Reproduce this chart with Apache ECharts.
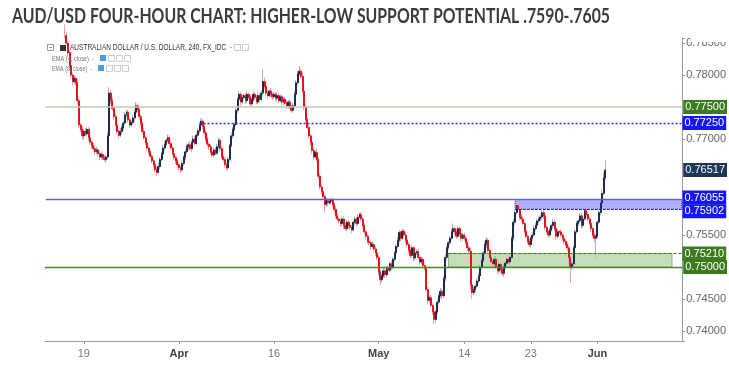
<!DOCTYPE html>
<html><head><meta charset="utf-8">
<script src="https://cdn.jsdelivr.net/npm/echarts@6/dist/echarts.min.js"></script>
<style>html,body{margin:0;padding:0;background:#fff}#c{width:729px;height:368px}</style>
</head><body><div id="c"></div>
<script>
// ---- DATA (AUD/USD 4h, prices in pips x 1e-4) ----
const firstOpen = 7890;
// closes, one row per trading day (6 four-hour bars), starting Tue 13 Mar 2018
const closes = [
7895,7905,7900,7890,7885,7892, // Mar13
7900,7910,7898,7885,7880,7875, // Mar14
7862,7850,7835,7815,7800,7790, // Mar15
7795,7788,7760,7722,7715,7705, // Mar16
7712,7708,7715,7702,7695,7690, // Mar19
7685,7680,7683,7677,7672,7676, // Mar20
7671,7668,7672,7705,7772,7760, // Mar21
7748,7735,7722,7712,7706,7712, // Mar22
7718,7725,7738,7742,7730,7722, // Mar23
7726,7733,7742,7752,7746,7735, // Mar26
7724,7712,7702,7694,7686,7680, // Mar27
7673,7666,7660,7652,7648,7657, // Mar28
7668,7677,7686,7692,7698,7702, // Mar29
7693,7686,7677,7671,7666,7660, // Mar30
7655,7652,7662,7672,7680,7688, // Apr2
7691,7685,7695,7700,7693,7706, // Apr3
7713,7722,7728,7720,7710,7700, // Apr4
7692,7688,7680,7675,7683,7678, // Apr5
7688,7698,7685,7672,7668,7660, // Apr6
7655,7668,7690,7705,7715,7723, // Apr9
7745,7762,7770,7758,7765,7768, // Apr10
7760,7770,7765,7755,7762,7770, // Apr11
7765,7758,7768,7762,7772,7790, // Apr12
7782,7772,7768,7775,7770,7766, // Apr13
7770,7764,7768,7760,7766,7758, // Apr16
7762,7756,7752,7758,7750,7745, // Apr17
7752,7770,7788,7802,7806,7798, // Apr18
7775,7750,7730,7718,7705,7695, // Apr19
7682,7672,7679,7668,7642,7625, // Apr20
7618,7610,7598,7604,7600,7603, // Apr23
7605,7598,7590,7580,7575,7572, // Apr24
7568,7575,7565,7560,7570,7565, // Apr25
7562,7558,7570,7575,7568,7578, // Apr26
7582,7575,7565,7555,7548,7540, // Apr27
7538,7532,7535,7528,7522,7515, // Apr30
7492,7480,7486,7494,7488,7498, // May1
7495,7505,7500,7512,7522,7532, // May2
7542,7554,7545,7556,7550,7542, // May3
7535,7526,7518,7530,7514,7522, // May4
7524,7515,7508,7512,7502,7498, // May7
7465,7448,7452,7440,7430,7418, // May8
7430,7445,7455,7462,7455,7482, // May9
7515,7530,7538,7545,7555,7560, // May10
7555,7548,7560,7552,7545,7550, // May11
7545,7538,7530,7525,7472,7460, // May14
7465,7470,7478,7486,7500,7510, // May15
7522,7535,7542,7526,7515,7508, // May16
7505,7512,7500,7494,7504,7496, // May17
7490,7500,7506,7512,7508,7515, // May18
7545,7570,7585,7596,7590,7578, // May21
7575,7568,7556,7548,7540,7535, // May22
7545,7550,7560,7565,7572,7575, // May23
7578,7585,7580,7562,7555,7550, // May24
7558,7565,7570,7560,7548,7555, // May25
7555,7550,7545,7540,7535,7530, // May28
7515,7500,7505,7530,7555,7568, // May29
7572,7580,7565,7575,7588,7582, // May30
7575,7568,7560,7550,7545,7548, // May31
7570,7585,7600,7615,7640,7651.7 // Jun1
];
// upper wick above max(open,close), pips
const upperWick = [
4,6,3,5,3,4, 6,8,5,4,5,3, 4,5,3,4,3,4, 5,3,6,4,3,5, 4,5,3,4,5,3,
3,4,5,3,4,3, 3,4,3,6,9,5, 6,4,5,3,4,5, 4,3,5,4,3,4, 3,5,4,6,4,3,
4,3,5,3,4,3, 3,4,3,5,4,5, 4,3,5,4,3,5, 5,4,3,4,3,4, 3,4,5,3,4,5,
4,5,3,5,4,3, 3,4,5,4,3,4, 4,3,4,5,3,4, 5,4,3,4,3,4, 3,4,3,5,4,3,
5,4,5,3,4,3, 4,5,3,4,3,5, 3,4,5,3,4,20, 6,4,5,3,4,3, 4,3,5,4,3,4,
3,4,5,3,4,3, 4,5,4,5,8,4, 6,5,4,3,4,3, 4,5,3,6,3,4, 4,3,5,4,3,4,
3,4,3,5,4,3, 4,3,4,5,3,4, 5,4,3,4,3,5, 3,4,3,4,3,4, 4,3,5,3,4,3,
3,4,3,5,4,3, 4,3,5,4,3,4, 5,4,3,4,3,4, 3,4,5,4,3,4, 4,5,3,4,3,4,
5,4,3,4,3,4, 3,4,3,5,4,4, 5,4,3,4,5,8, 4,5,4,3,4,3, 3,4,3,4,5,4,
4,3,4,5,3,4, 3,5,4,3,4,3, 4,3,5,4,3,4, 3,4,3,4,5,3, 4,5,4,8,5,4,
5,4,3,4,3,4, 3,4,5,4,3,4, 4,6,5,3,4,3, 4,3,5,4,3,4, 3,4,3,4,3,4,
4,3,5,4,3,4, 3,4,5,4,5,4, 4,3,4,3,4,3, 3,4,5,6,8,15
];
// lower wick below min(open,close), pips
const lowerWick = [
5,4,3,5,4,3, 4,5,6,5,4,5, 5,4,6,5,4,6, 4,5,6,5,4,6, 5,4,3,5,4,6,
4,5,3,4,5,4, 4,3,5,4,3,5, 4,5,3,4,5,3, 5,4,3,4,5,4, 3,4,5,3,4,5,
4,5,3,4,5,4, 3,4,5,4,6,3, 4,3,5,4,3,4, 5,4,3,4,5,4, 4,5,3,4,5,3,
5,4,6,3,4,3, 3,4,3,5,4,5, 4,5,4,3,4,3, 3,4,5,3,4,5, 4,3,4,3,4,3,
3,4,5,6,4,3, 5,4,3,4,3,4, 4,3,4,5,3,4, 4,5,6,3,4,5, 3,4,5,4,3,5,
4,3,5,4,3,4, 3,4,3,4,3,4, 4,5,4,3,4,5, 5,4,3,4,5,4, 4,5,13,4,5,3,
3,4,5,4,3,4, 5,4,6,3,4,5, 4,5,3,4,5,3, 3,4,5,4,5,4, 4,5,3,4,5,4,
5,8,4,3,5,4, 4,3,5,4,3,4, 3,4,5,3,4,5, 4,5,4,3,5,4, 3,4,5,4,3,4,
4,5,4,3,5,7, 5,4,3,4,5,3, 4,5,3,4,3,4, 5,4,3,4,5,4, 4,3,5,4,8,10,
4,5,3,4,3,4, 3,4,5,4,3,4, 5,4,3,6,4,5, 4,5,3,4,3,4, 3,4,5,3,4,5,
4,3,5,4,5,4, 5,4,3,4,3,4, 3,4,5,4,3,4, 4,3,5,4,6,4, 3,4,5,4,3,5,
5,25,4,3,4,3, 4,3,5,4,3,4, 3,4,5,4,6,30, 4,3,4,5,3,4
];
const futureBars = 48;
// x tick labels keyed by bar index
const tickLabels = {24:'19', 84:'Apr', 144:'16', 210:'May', 264:'14', 306:'23', 348:'Jun'};
const monthLabels = ['Apr','May','Jun'];
// drawn levels
const levelValues = [0.775, 0.7725, 0.76517, 0.76055, 0.75902, 0.7521, 0.75];
const levelTexts = ['0.77500','0.77250','0.76517','0.76055','0.75902','0.75210','0.75000'];
const boxBlue = [0.75902, 0.76055];
const boxGreen = [0.75, 0.7521];
const yMin = 0.73843, yMax = 0.7858;

// ---- build ----
const nBars = closes.length;
const total = nBars + futureBars;
const categories = [];
const dt = new Date(Date.UTC(2018, 2, 13));
while (categories.length < total) {
  const wd = dt.getUTCDay();
  if (wd !== 0 && wd !== 6) {
    for (let h = 0; h < 24; h += 4) {
      categories.push(dt.toISOString().slice(0,10) + ' ' + String(h).padStart(2,'0') + ':00');
    }
  }
  dt.setUTCDate(dt.getUTCDate() + 1);
}
categories.length = total;

const full = [], bodies = [];
for (let i = 0; i < nBars; i++) {
  const o = (i === 0 ? firstOpen : closes[i-1]);
  const c = closes[i];
  const hi = Math.max(o, c) + upperWick[i];
  const lo = Math.min(o, c) - lowerWick[i];
  full.push([o/1e4, c/1e4, lo/1e4, hi/1e4]);
  bodies.push([o/1e4, c/1e4, Math.min(o,c)/1e4, Math.max(o,c)/1e4]);
}
const last = total - 1;

const green = '#3d7b1f', blue = '#1414ff', navy = '#1d3657';
function tag(text, bg, dy) {
  return {show:true, position:'end', distance:1, formatter:text, color:'#fff', offset:[0, dy || 0],
    backgroundColor:bg, fontSize:11, fontFamily:'Arial', padding:[2,2,1,2]};
}

const chart = echarts.init(document.getElementById('c'), null, {renderer:'canvas'});

// horizontal scale factors to reproduce the condensed fonts
const cv = document.createElement('canvas').getContext('2d');
function fitScale(text, font, target) { cv.font = font; return target / cv.measureText(text).width; }
const titleText = 'AUD/USD FOUR-HOUR CHART: HIGHER-LOW SUPPORT POTENTIAL .7590-.7605';
const titleFont = 'bold 21px Lato';
const legendText = 'AUSTRALIAN DOLLAR / U.S. DOLLAR, 240, FX_IDC  -';
const legendFont = '9px Arial';
const ema1 = 'EMA (4, close)  -', ema2 = 'EMA (8, close)  -';
const emaFont = '8px Arial';

const hidden = [0.775, 0.765, 0.76, 0.75];
const option = {
  animation: false,
  grid: {left: 45, right: 39, top: 38, bottom: 27},
  xAxis: {
    type: 'category', data: categories, boundaryGap: true,
    axisLine: {show: true, lineStyle: {color: '#9a9a9a'}},
    axisTick: {show: true, length: 3, alignWithLabel: true, interval: (i) => tickLabels[i] !== undefined, lineStyle: {color: '#9a9a9a'}},
    axisLabel: {
      interval: (i) => tickLabels[i] !== undefined, margin: 7,
      formatter: (v, i) => { const t = tickLabels[i] || ''; return monthLabels.includes(t) ? '{m|' + t + '}' : '{d|' + t + '}'; },
      rich: {m: {fontSize: 11, fontWeight: 'bold', color: '#444', fontFamily: 'Arial'}, d: {fontSize: 11, color: '#777', fontFamily: 'Arial'}}
    },
    splitLine: {show: false}
  },
  yAxis: {
    type: 'value', position: 'right', min: yMin, max: yMax, scale: true,
    splitNumber: 10, minInterval: 0.005, maxInterval: 0.005,
    splitLine: {show: false},
    axisLine: {show: true, lineStyle: {color: '#9a9a9a'}},
    axisTick: {show: true, length: 3, lineStyle: {color: '#9a9a9a'}},
    axisLabel: {
      margin: 4, color: '#666', fontSize: 11, fontFamily: 'Arial',
      formatter: (v) => {
        const k = v / 0.005;
        if (Math.abs(k - Math.round(k)) > 1e-6) return '';
        if (hidden.some(h => Math.abs(h - v) < 1e-7)) return '';
        return v.toFixed(5);
      }
    }
  },
  series: [
    {
      type: 'candlestick', data: full, barWidth: 1, clip: true, silent: true,
      itemStyle: {color: '#a3b2c8', color0: '#f2a2a2', borderColor: '#a3b2c8', borderColor0: '#f2a2a2', borderWidth: 1}
    },
    {
      type: 'candlestick', data: bodies, barWidth: 1.5, clip: true, silent: true,
      itemStyle: {color: '#1d2c48', color0: '#e3161d', borderColor: '#1d2c48', borderColor0: '#e3161d', borderWidth: 1},
      markArea: {
        silent: true,
        data: [
          [{xAxis: 296, yAxis: boxBlue[0], itemStyle: {color: 'rgba(110,110,255,0.55)', borderColor: '#1a1aa8', borderWidth: 1, borderType: 'dotted'}}, {xAxis: last, yAxis: boxBlue[1]}],
          [{xAxis: 254, yAxis: boxGreen[0], itemStyle: {color: 'rgba(150,195,125,0.55)', borderColor: '#8fae7c', borderWidth: 1}}, {xAxis: 395, yAxis: boxGreen[1]}]
        ]
      },
      markLine: {
        silent: true, symbol: 'none', animation: false, precision: 6,
        data: [
          {yAxis: levelValues[0], lineStyle: {color: '#c4c8b2', width: 1.5, type: 'solid'}, label: tag(levelTexts[0], green)},
          [{coord: [97, levelValues[1]], lineStyle: {color: '#2b2bff', width: 1.3, type: [2, 2]}, label: tag(levelTexts[1], blue)}, {coord: [last, levelValues[1]]}],
          {yAxis: levelValues[2], lineStyle: {color: 'rgba(0,0,0,0)', width: 1}, label: tag(levelTexts[2], navy)},
          [{coord: [0, levelValues[3]], lineStyle: {color: '#5c5cff', width: 1.4, type: 'solid', opacity: 1}, label: tag(levelTexts[3], blue, -2)}, {coord: [last, levelValues[3]]}],
          [{coord: [296, levelValues[4]], lineStyle: {color: '#1a1ac0', width: 1, type: [2, 2]}, label: tag(levelTexts[4], blue, 2)}, {coord: [last, levelValues[4]]}],
          [{coord: [254, levelValues[5]], lineStyle: {color: '#3d7b1f', width: 1, type: [3, 2]}, label: tag(levelTexts[5], green)}, {coord: [last, levelValues[5]]}],
          {yAxis: levelValues[6], lineStyle: {color: '#4a8a2a', width: 1.3, type: 'solid'}, label: tag(levelTexts[6], green)}
        ]
      }
    }
  ],
  graphic: [
    {type: 'rect', x: 690.5, y: 28, shape: {width: 39, height: 14}, style: {fill: '#fff'}, z: 100},
    {type: 'text', x: 12, y: 6, scaleX: fitScale(titleText, titleFont, 598), z: 100,
      style: {text: titleText, font: titleFont, fill: '#3b3b3b'}},
    {type: 'rect', x: 47.5, y: 44.5, shape: {width: 6, height: 6}, style: {fill: 'none', stroke: '#999', lineWidth: 1}, z: 100},
    {type: 'line', shape: {x1: 49, y1: 47.5, x2: 52, y2: 47.5}, style: {stroke: '#999', lineWidth: 1}, z: 100},
    {type: 'rect', x: 60, y: 45, shape: {width: 6, height: 6}, style: {fill: '#333'}, z: 100},
    {type: 'text', x: 70, y: 43, scaleX: fitScale(legendText, legendFont, 162), z: 100, style: {text: legendText, font: legendFont, fill: '#333'}},
    {type: 'rect', x: 234.5, y: 44.5, shape: {width: 6, height: 6}, style: {fill: 'none', stroke: '#ccc', lineWidth: 1}, z: 100},
    {type: 'rect', x: 242.5, y: 44.5, shape: {width: 6, height: 6}, style: {fill: 'none', stroke: '#ccc', lineWidth: 1}, z: 100},
    {type: 'text', x: 52, y: 54.5, scaleX: fitScale(ema1, emaFont, 42), z: 100, style: {text: ema1, font: emaFont, fill: '#777'}},
    {type: 'rect', x: 100, y: 55, shape: {width: 6, height: 6}, style: {fill: '#4a9fe0'}, z: 100},
    {type: 'rect', x: 108.5, y: 55.5, shape: {width: 6, height: 6}, style: {fill: 'none', stroke: '#ccc'}, z: 100},
    {type: 'rect', x: 116.5, y: 55.5, shape: {width: 6, height: 6}, style: {fill: 'none', stroke: '#ccc'}, z: 100},
    {type: 'rect', x: 124.5, y: 55.5, shape: {width: 6, height: 6}, style: {fill: 'none', stroke: '#ccc'}, z: 100},
    {type: 'text', x: 52, y: 64.5, scaleX: fitScale(ema2, emaFont, 40), z: 100, style: {text: ema2, font: emaFont, fill: '#777'}},
    {type: 'rect', x: 98, y: 65, shape: {width: 6, height: 6}, style: {fill: '#4a9fe0'}, z: 100},
    {type: 'rect', x: 106.5, y: 65.5, shape: {width: 6, height: 6}, style: {fill: 'none', stroke: '#ccc'}, z: 100},
    {type: 'rect', x: 114.5, y: 65.5, shape: {width: 6, height: 6}, style: {fill: 'none', stroke: '#ccc'}, z: 100},
    {type: 'rect', x: 122.5, y: 65.5, shape: {width: 6, height: 6}, style: {fill: 'none', stroke: '#ccc'}, z: 100}
  ]
};
chart.setOption(option);
</script></body></html>
